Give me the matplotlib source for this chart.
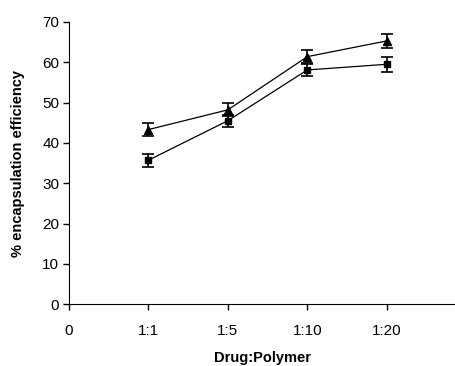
import matplotlib.pyplot as plt

plt.rcParams['font.family'] = ['Liberation Sans', 'DejaVu Sans']

ratios = ['1:1', '1:5', '1:10', '1:20']
triangle_vals = [43.3, 48.2, 61.4, 65.3]
triangle_err = [1.7, 1.6, 1.6, 1.7]
square_vals = [35.7, 45.5, 58.1, 59.5]
square_err = [1.6, 1.5, 1.4, 1.9]

xpos = list(range(1, len(ratios) + 1))

fig = plt.figure(figsize=(4.56, 3.66), dpi=100)
ax = fig.add_axes([0.151, 0.169, 0.849, 0.771])

ax.errorbar(xpos, triangle_vals, yerr=triangle_err, color='black', marker='^',
            markersize=6, linewidth=0.9, elinewidth=1.2, capsize=4, capthick=1.2)
ax.errorbar(xpos, square_vals, yerr=square_err, color='black', marker='s',
            markersize=5, linewidth=0.9, elinewidth=1.2, capsize=4, capthick=1.2)

ax.set_xlim(0, 4.87)
ax.set_ylim(0, 70)
ax.set_xticks([0] + xpos)
ax.set_xticklabels(['0'] + ratios)
ax.set_yticks(range(0, 71, 10))

ax.spines['top'].set_visible(False)
ax.spines['right'].set_visible(False)
ax.tick_params(axis='both', labelsize=11, length=4, width=1, pad=10)
ax.tick_params(axis='y', pad=3)

ax.set_xlabel('Drug:Polymer', fontsize=10.5, fontweight='bold', labelpad=10)
ax.set_ylabel('% encapsulation efficiency', fontsize=10.5, fontweight='bold', labelpad=12)

fig.savefig('out.png', dpi=100)
